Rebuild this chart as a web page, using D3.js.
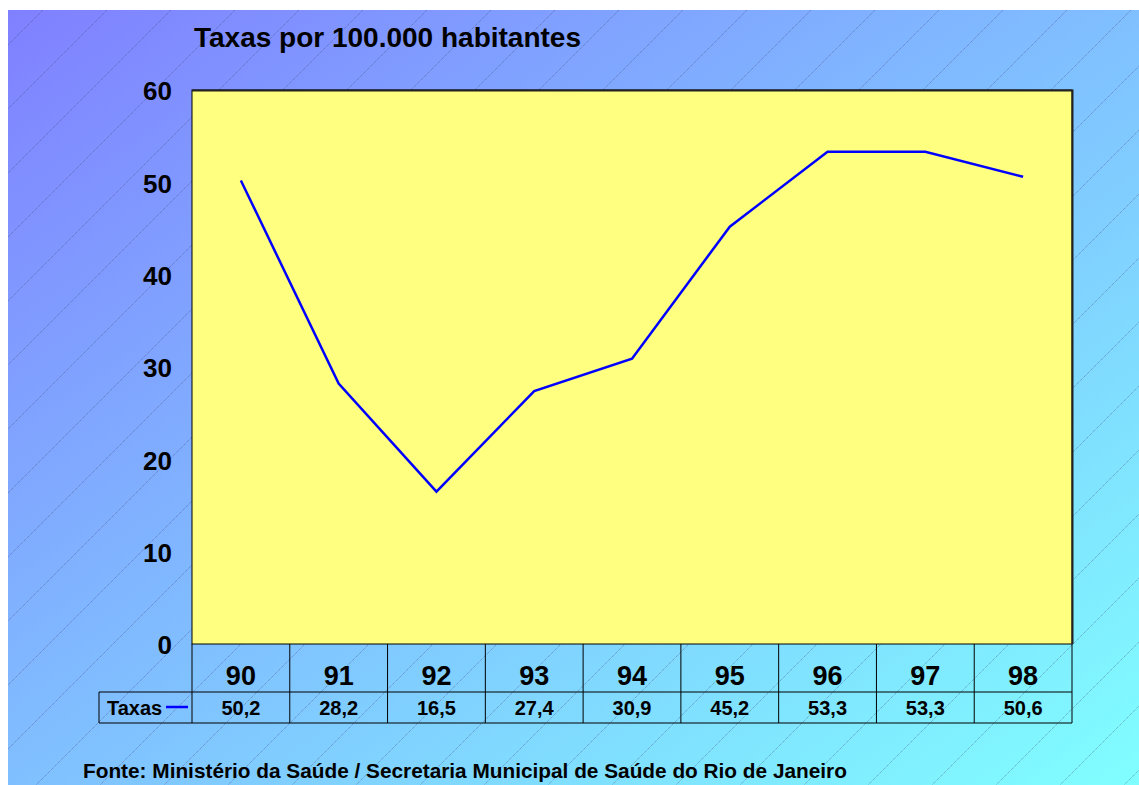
<!DOCTYPE html>
<html><head><meta charset="utf-8">
<script src="https://cdn.jsdelivr.net/npm/d3@7"></script>
<style>body{margin:0;background:#fff}svg{display:block;font-family:"Liberation Sans",Arial,sans-serif}</style>
</head><body><svg id="c" width="1139" height="785"></svg>
<script>
const categories = ["90","91","92","93","94","95","96","97","98"];
const values = [50.2, 28.2, 16.5, 27.4, 30.9, 45.2, 53.3, 53.3, 50.6];
const valueLabels = ["50,2","28,2","16,5","27,4","30,9","45,2","53,3","53,3","50,6"];
const yTicks = [0,10,20,30,40,50,60];
const seriesName = "Taxas";
const title = "Taxas por 100.000 habitantes";
const source = "Fonte: Ministério da Saúde / Secretaria Municipal de Saúde do Rio de Janeiro";

const svg = d3.select("#c");
const W = 1139, H = 785;
const bg = {x0: 8, y0: 10, x1: W, y1: H};
const m = {left: 192, top: 90, right: 1072, bottom: 644};

const defs = svg.append("defs");
const g = defs.append("linearGradient").attr("id","bgGrad")
  .attr("x1","0").attr("y1","0").attr("x2","1").attr("y2","1");
g.append("stop").attr("offset","0").attr("stop-color","#8080ff");
g.append("stop").attr("offset","1").attr("stop-color","#80ffff");
defs.append("clipPath").attr("id","bgClip").append("rect")
  .attr("x",bg.x0).attr("y",bg.y0).attr("width",bg.x1-bg.x0).attr("height",bg.y1-bg.y0);

svg.append("rect").attr("x",bg.x0).attr("y",bg.y0).attr("width",bg.x1-bg.x0).attr("height",bg.y1-bg.y0)
  .attr("fill","url(#bgGrad)");

// diagonal hatch lines
const hatch = svg.append("g").attr("clip-path","url(#bgClip)");
for (let k = -917; k < 1300 + 800; k += 64) {
  hatch.append("line").attr("x1",k).attr("y1",bg.y0).attr("x2",k-800).attr("y2",bg.y0+800)
    .attr("stroke","rgba(60,60,100,0.6)").attr("stroke-width",0.8).attr("stroke-dasharray","1,1");
}

const x = d3.scaleBand().domain(categories).range([m.left, m.right]).padding(0);
const y = d3.scaleLinear().domain([0,60]).range([m.bottom, m.top]);

// plot area
svg.append("rect").attr("x",m.left).attr("y",m.top).attr("width",m.right-m.left).attr("height",m.bottom-m.top)
  .attr("fill","#ffff80").attr("stroke","#000").attr("stroke-width",1);
svg.append("path").attr("d",`M${m.left},${m.top+0.5}H${m.right+0.5}V${m.bottom}`)
  .attr("fill","none").attr("stroke","#222").attr("stroke-width",2);

// y axis labels
svg.append("g").selectAll("text").data(yTicks).join("text")
  .attr("x",172).attr("y",d=>y(d)+1).attr("dy","0.36em").attr("text-anchor","end")
  .attr("font-size",26).attr("font-weight","bold").text(d=>d);

// title
svg.append("text").attr("x",194).attr("y",47).attr("font-size",28).attr("font-weight","bold").text(title);

// line
svg.append("path").datum(values)
  .attr("d", d3.line().x((d,i)=>x(categories[i])+x.bandwidth()/2).y(d=>y(d)))
  .attr("fill","none").attr("stroke","#0000ff").attr("stroke-width",2.5);

// data table
const rowTop = m.bottom, rowMid = 692, rowBot = 723, legLeft = 99;
const tbl = svg.append("g").attr("stroke","#000").attr("stroke-width",1).attr("fill","none");
tbl.append("path").attr("d",`M${m.left},${rowTop}V${rowBot}M${m.right},${rowTop}V${rowBot}`);
tbl.append("path").attr("d",`M${legLeft},${rowMid}H${m.right}M${legLeft},${rowBot}H${m.right}M${legLeft},${rowMid}V${rowBot}`);
tbl.selectAll(".v").data(categories.slice(1)).join("line")
  .attr("x1",d=>x(d)).attr("x2",d=>x(d)).attr("y1",rowTop).attr("y2",rowBot);

svg.append("g").selectAll("text").data(categories).join("text")
  .attr("x",d=>x(d)+x.bandwidth()/2).attr("y",685).attr("text-anchor","middle")
  .attr("font-size",27).attr("font-weight","bold").text(d=>d);
svg.append("g").selectAll("text").data(valueLabels).join("text")
  .attr("x",(d,i)=>x(categories[i])+x.bandwidth()/2).attr("y",715).attr("text-anchor","middle")
  .attr("font-size",20).attr("font-weight","bold").text(d=>d);
svg.append("text").attr("x",107).attr("y",715).attr("font-size",20).attr("font-weight","bold").text(seriesName);
svg.append("line").attr("x1",166).attr("x2",188).attr("y1",707).attr("y2",707).attr("stroke","#0000ff").attr("stroke-width",2.5);

svg.append("text").attr("x",83).attr("y",778).attr("font-size",20.8).attr("font-weight","bold").text(source);
</script></body></html>
